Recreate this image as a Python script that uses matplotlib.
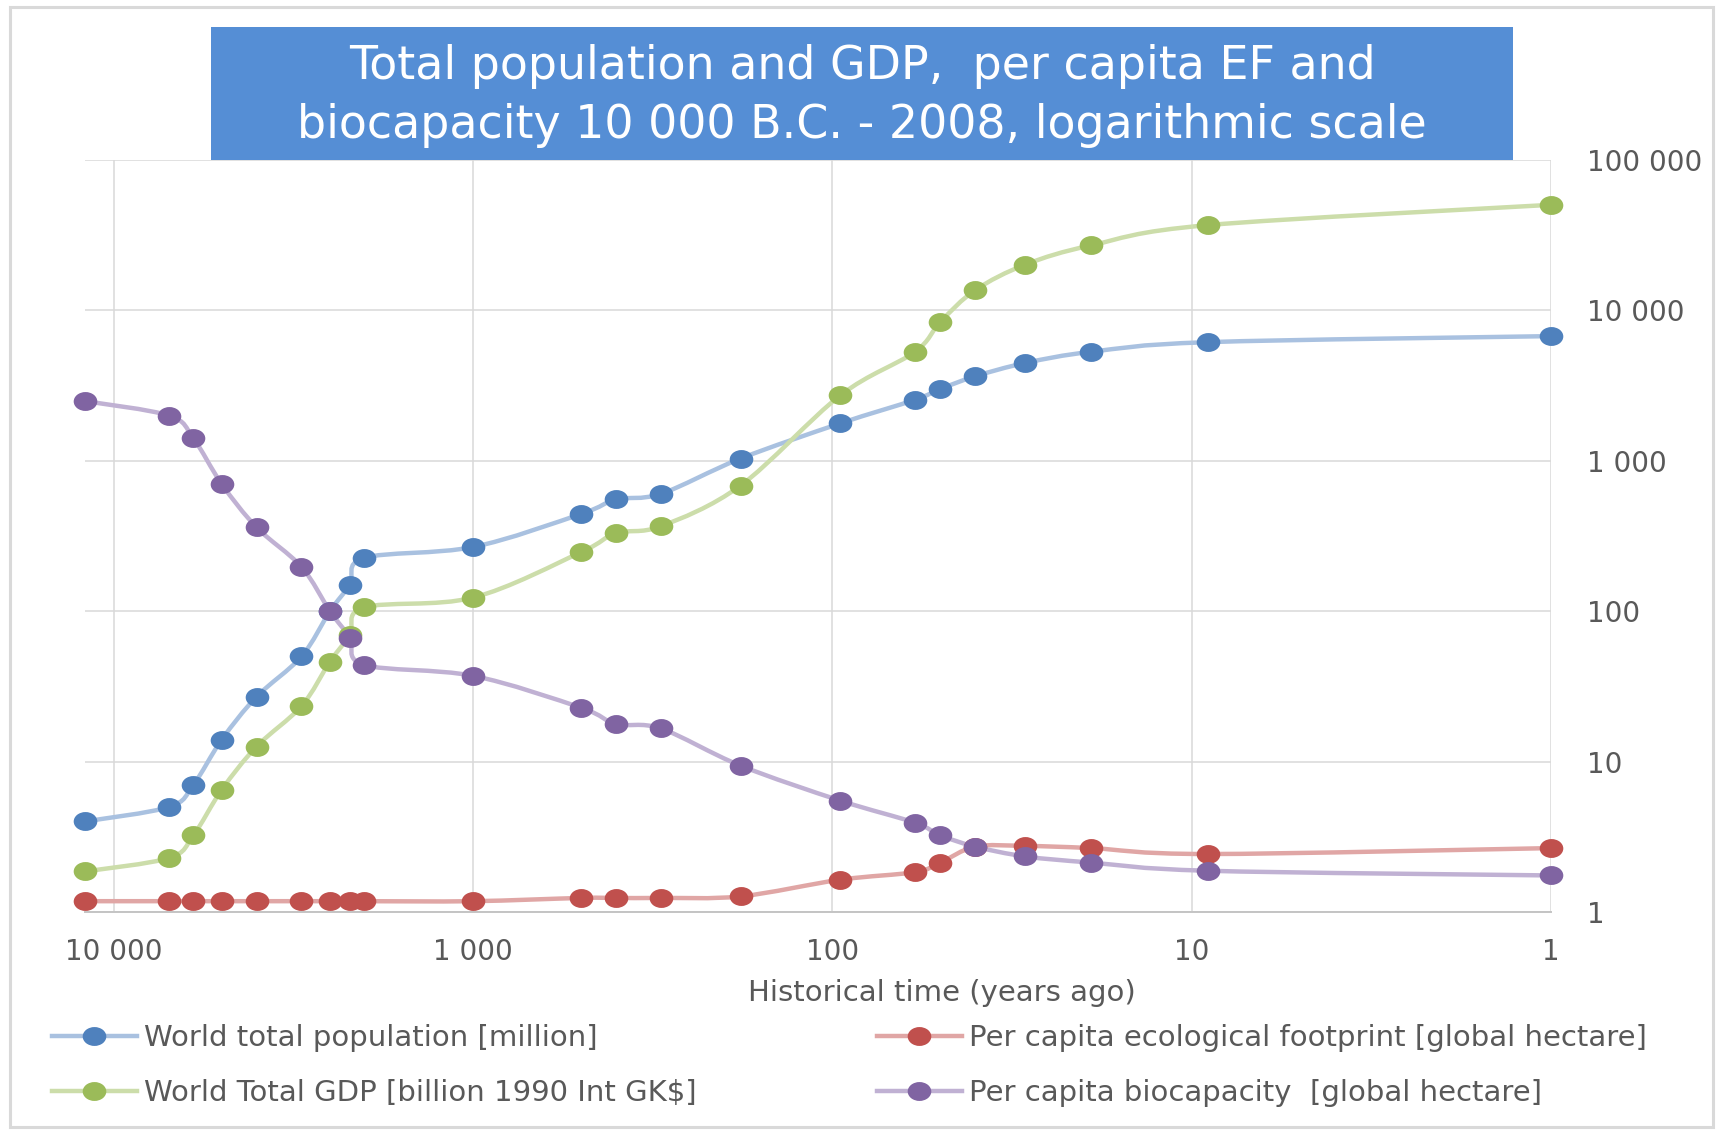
import numpy as np
import matplotlib
matplotlib.use("Agg")
import matplotlib.pyplot as plt
from matplotlib.path import Path
from matplotlib.patches import PathPatch, Rectangle
from matplotlib.lines import Line2D
from matplotlib.transforms import Affine2D
from matplotlib.ticker import FixedLocator, FixedFormatter, NullLocator

# ---------------- data ----------------
years_ago = [12009, 7000, 6000, 5000, 4000, 3000, 2500, 2200, 2010, 1000, 500, 400,
             300, 180, 95, 59, 50, 40, 29, 19, 9, 1]
population = [4, 5, 7, 14, 27, 50, 100, 150, 226, 267, 443, 553, 603, 1035, 1774,
              2541, 3006, 3648, 4474, 5308, 6150, 6745]
gdp = [1.86, 2.29, 3.23, 6.5, 12.6, 23.4, 46.1, 69.6, 106, 123, 247, 330, 367, 684,
       2723, 5286, 8396, 13650, 20180, 27100, 36900, 50350]
footprint = [1.18, 1.18, 1.18, 1.18, 1.18, 1.18, 1.18, 1.18, 1.18, 1.18, 1.24, 1.24,
             1.24, 1.27, 1.64, 1.84, 2.13, 2.72, 2.75, 2.66, 2.43, 2.66]
biocapacity = [2494, 1995, 1413, 700, 361, 197, 100, 66.7, 44, 37.2, 22.8, 17.8,
               16.6, 9.4, 5.5, 3.93, 3.23, 2.72, 2.34, 2.13, 1.88, 1.75]

series_labels = ["World total population [million]",
                 "World Total GDP [billion 1990 Int GK$]",
                 "Per capita ecological footprint [global hectare]",
                 "Per capita biocapacity  [global hectare]"]
marker_colors = ["#4F81BD", "#9BBB59", "#C0504D", "#8064A2"]
line_colors = ["#A9C1E0", "#CCDDAA", "#E0A6A5", "#C0B1D3"]

x_ticks = [10000, 1000, 100, 10, 1]
x_ticklabels = ["10 000", "1 000", "100", "10", "1"]
y_ticks = [1, 10, 100, 1000, 10000, 100000]
y_ticklabels = ["1", "10", "100", "1 000", "10 000", "100 000"]

title_lines = ["Total population and GDP,  per capita EF and",
               "biocapacity 10 000 B.C. - 2008, logarithmic scale"]
x_label = "Historical time (years ago)"

# ---------------- figure ----------------
W, H = 1719, 1132
fig = plt.figure(figsize=(W / 100, H / 100), dpi=100)
FONT = "DejaVu Sans"
TXT = "#595959"

def fx(px):
    return px / W

def fy(py):
    return 1 - py / H

ax = fig.add_axes([fx(85), fy(912), fx(1551) - fx(85), fy(160) - fy(912)])
ax.set_xscale("log")
ax.set_yscale("log")
ax.set_xlim(years_ago[0], 1)
ax.set_ylim(y_ticks[0], y_ticks[-1])

ax.xaxis.set_major_locator(FixedLocator(x_ticks))
ax.xaxis.set_major_formatter(FixedFormatter(x_ticklabels))
ax.xaxis.set_minor_locator(NullLocator())
ax.yaxis.set_major_locator(FixedLocator(y_ticks))
ax.yaxis.set_major_formatter(FixedFormatter(y_ticklabels))
ax.yaxis.set_minor_locator(NullLocator())
ax.yaxis.tick_right()
ax.tick_params(axis="both", length=0, labelsize=20, labelcolor=TXT)
ax.tick_params(axis="x", pad=19)
ax.tick_params(axis="y", pad=26)
for lab in ax.get_xticklabels() + ax.get_yticklabels():
    lab.set_fontfamily(FONT)

ax.grid(True, which="major", color="#D9D9D9", linewidth=1.1)
ax.set_axisbelow(True)
for s in ["top", "left", "right"]:
    ax.spines[s].set_visible(False)
ax.spines["bottom"].set_color("#C4C4C4")
ax.spines["bottom"].set_linewidth(1.4)

ax.set_xlabel(x_label, fontsize=21, color=TXT, family=FONT)
ax.xaxis.set_label_coords((942 - 85) / (1551 - 85), (912 - 993) / (912 - 160))
ax.xaxis.label.set_va("center")

# ellipse marker (the original chart is stretched horizontally)
ell = Affine2D().scale(1.25, 1.0).transform_path(Path.unit_circle())
MS = 17


def smooth_path(xs, ys):
    lx = np.log10(np.asarray(xs, float))
    ly = np.log10(np.asarray(ys, float))
    pts = np.column_stack([lx, ly])
    n = len(pts)
    verts = [pts[0]]
    codes = [Path.MOVETO]
    for i in range(n - 1):
        p0 = pts[i - 1] if i > 0 else pts[i]
        p1 = pts[i]
        p2 = pts[i + 1]
        p3 = pts[i + 2] if i + 2 < n else pts[i + 1]
        c1 = p1 + (p2 - p0) / 6.0
        c2 = p2 - (p3 - p1) / 6.0
        verts += [c1, c2, p2]
        codes += [Path.CURVE4] * 3
    verts = 10 ** np.array(verts)
    return Path(verts, codes)


all_series = [population, gdp, footprint, biocapacity]
for k, ys in enumerate(all_series):
    patch = PathPatch(smooth_path(years_ago, ys), facecolor="none",
                      edgecolor=line_colors[k], linewidth=3.2, zorder=2 + k * 0.1,
                      capstyle="round", joinstyle="round")
    ax.add_patch(patch)
for k, ys in enumerate(all_series):
    ax.plot(years_ago, ys, linestyle="none", marker=ell, markersize=MS,
            markerfacecolor=marker_colors[k], markeredgewidth=0,
            zorder=3 + k * 0.1, clip_on=False)

# legend
handles = [Line2D([], [], color=line_colors[k], linewidth=3.2, marker=ell,
                  markersize=MS, markerfacecolor=marker_colors[k],
                  markeredgewidth=0) for k in range(4)]
leg_kw = dict(frameon=False, loc="upper left", borderpad=0, borderaxespad=0,
              handlelength=2.9, handletextpad=0.25, labelspacing=0.92,
              prop={"family": FONT, "size": 21}, labelcolor=TXT,
              bbox_transform=fig.transFigure)
leg1 = ax.legend(handles[:2], series_labels[:2], bbox_to_anchor=(fx(52), fy(1024)), **leg_kw)
ax.add_artist(leg1)
leg2 = ax.legend(handles[2:], series_labels[2:], bbox_to_anchor=(fx(877), fy(1024)), **leg_kw)

# title box
fig.patches.append(Rectangle((fx(211), fy(160)), fx(1513) - fx(211), fy(27) - fy(160),
                             transform=fig.transFigure, facecolor="#558ED5",
                             edgecolor="none", zorder=5))
fig.text(fx(862), fy(79), title_lines[0], ha="center", va="baseline", color="white",
         fontsize=33, family=FONT, zorder=6)
fig.text(fx(862), fy(138), title_lines[1], ha="center", va="baseline", color="white",
         fontsize=33, family=FONT, zorder=6)

# outer chart border
fig.patches.append(Rectangle((fx(10), fy(1127)), fx(1713) - fx(10), fy(7) - fy(1127),
                             transform=fig.transFigure, facecolor="none",
                             edgecolor="#D9D9D9", linewidth=2.2, zorder=0))

fig.savefig("out.png", dpi=100, facecolor="white")
